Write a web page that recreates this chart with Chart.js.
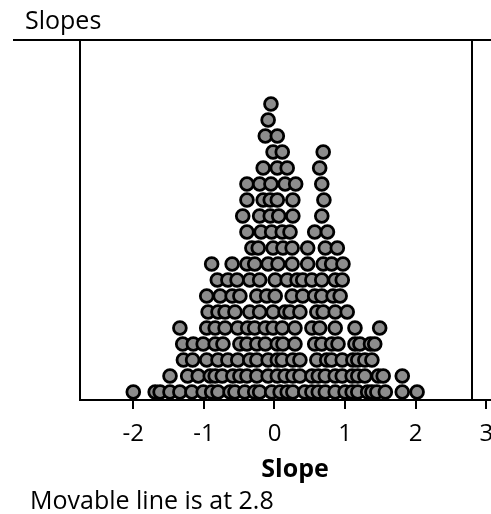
<!DOCTYPE html>
<html>
<head>
<meta charset="utf-8">
<script src="https://cdn.jsdelivr.net/npm/chart.js@4/dist/chart.umd.min.js"></script>
<style>
  html, body { margin: 0; padding: 0; background: #ffffff; }
  #wrap { width: 491px; height: 514px; }
</style>
</head>
<body>
<div id="wrap"><canvas id="c" width="491" height="514"></canvas></div>
<script>
// Slope values in the dot plot, grouped by stack level (level01 rests on the axis)
const level01 = [-2.00, -1.69, -1.62, -1.48, -1.34, -1.17, -1.01, -0.89, -0.80, -0.63, -0.56, -0.42, -0.28, -0.21, -0.04, 0.08, 0.18, 0.26, 0.43, 0.53, 0.62, 0.72, 0.86, 1.00, 1.10, 1.18, 1.32, 1.38, 1.45, 1.57, 1.81, 2.02];
const level02 = [-1.48, -1.23, -1.08, -0.91, -0.84, -0.74, -0.59, -0.49, -0.39, -0.25, -0.09, 0.04, 0.15, 0.26, 0.36, 0.53, 0.62, 0.72, 0.86, 0.96, 1.10, 1.18, 1.28, 1.47, 1.54, 1.81];
const level03 = [-1.29, -1.16, -0.96, -0.80, -0.66, -0.52, -0.35, -0.25, -0.09, 0.04, 0.11, 0.26, 0.36, 0.60, 0.74, 0.81, 0.96, 1.11, 1.18, 1.28, 1.38];
const level04 = [-1.30, -1.15, -1.01, -0.84, -0.73, -0.49, -0.39, -0.25, -0.13, 0.04, 0.12, 0.29, 0.57, 0.67, 0.81, 0.90, 1.14, 1.21, 1.36, 1.42];
const level05 = [-1.34, -0.96, -0.84, -0.70, -0.52, -0.38, -0.28, -0.13, -0.02, 0.11, 0.29, 0.53, 0.64, 0.86, 1.14, 1.49];
const level06 = [-0.94, -0.80, -0.70, -0.56, -0.35, -0.21, -0.02, 0.15, 0.22, 0.36, 0.60, 0.69, 0.86, 1.03];
const level07 = [-0.96, -0.77, -0.60, -0.49, -0.25, -0.11, 0.01, 0.25, 0.40, 0.57, 0.67, 0.83, 0.93];
const level08 = [-0.81, -0.66, -0.53, -0.35, -0.21, 0.01, 0.18, 0.32, 0.40, 0.53, 0.67, 0.86, 0.96];
const level09 = [-0.89, -0.60, -0.39, -0.28, -0.09, 0.05, 0.25, 0.47, 0.69, 0.81, 0.97];
const level10 = [-0.32, -0.23, -0.02, 0.12, 0.25, 0.47, 0.72, 0.89];
const level11 = [-0.39, -0.19, -0.04, 0.11, 0.22, 0.57, 0.75];
const level12 = [-0.45, -0.21, -0.06, 0.06, 0.26, 0.67];
const level13 = [-0.39, -0.16, -0.06, 0.04, 0.26, 0.70];
const level14 = [-0.39, -0.21, -0.05, 0.15, 0.30, 0.67];
const level15 = [-0.16, 0.04, 0.18, 0.64];
const level16 = [-0.02, 0.11, 0.69];
const level17 = [-0.13, 0.04];
const level18 = [-0.09];
const level19 = [-0.05];

const tickValues = [-2, -1, 0, 1, 2, 3];
const movableLineAt = 2.8;
const panelTitle = 'Slopes';
const axisTitle = 'Slope';
const footerText = 'Movable line is at ' + movableLineAt;

const levels = [level01, level02, level03, level04, level05, level06, level07, level08, level09, level10,
                level11, level12, level13, level14, level15, level16, level17, level18, level19];
const dots = levels.flatMap((vals, i) => vals.map(v => ({ x: v, y: i + 0.5 })));

const FONT = "'Open Sans', 'Noto Sans', 'DejaVu Sans', sans-serif";

// frame lines, movable line and the text around the plot
const framePlugin = {
  id: 'frame',
  beforeDatasetsDraw(chart) {
    const { ctx, chartArea: a, scales: { x } } = chart;
    ctx.save();
    ctx.strokeStyle = '#000';
    ctx.lineWidth = 2;
    ctx.beginPath();
    ctx.moveTo(13, a.top);
    ctx.lineTo(chart.width, a.top);
    ctx.moveTo(a.left, a.top);
    ctx.lineTo(a.left, a.bottom);
    const mx = Math.round(x.getPixelForValue(movableLineAt));
    ctx.moveTo(mx, a.top);
    ctx.lineTo(mx, a.bottom);
    ctx.stroke();
    ctx.restore();
  },
  afterDraw(chart) {
    const { ctx } = chart;
    ctx.save();
    ctx.fillStyle = '#000';
    ctx.textBaseline = 'alphabetic';
    ctx.font = '25px ' + FONT;
    ctx.textAlign = 'left';
    ctx.fillText(panelTitle, 25, 29);
    ctx.fillText(footerText, 30, 509);
    ctx.font = 'bold 25px ' + FONT;
    ctx.textAlign = 'center';
    ctx.fillText(axisTitle, 295, 477);
    ctx.restore();
  }
};

new Chart(document.getElementById('c'), {
  type: 'scatter',
  data: {
    datasets: [{
      data: dots,
      backgroundColor: '#8c8c8c',
      borderColor: '#000',
      borderWidth: 2.8,
      pointRadius: 6.4,
      pointHoverRadius: 6.4
    }]
  },
  options: {
    responsive: false,
    animation: false,
    devicePixelRatio: 1,
    layout: { autoPadding: false, padding: { top: 40, left: 80, right: 0, bottom: 54 } },
    plugins: { legend: { display: false }, tooltip: { enabled: false }, title: { display: false } },
    scales: {
      x: {
        type: 'linear',
        min: -2.755,
        max: 3.067,
        afterBuildTicks: s => { s.ticks = tickValues.map(v => ({ value: v })); },
        afterFit: s => { s.height = 60; s.paddingLeft = 0; s.paddingRight = 0; },
        ticks: {
          color: '#000',
          padding: 11,
          maxRotation: 0,
          autoSkip: false,
          font: { family: FONT, size: 24 },
          callback: v => String(v)
        },
        grid: { drawOnChartArea: false, drawTicks: true, tickLength: 9, color: '#000', lineWidth: 2 },
        border: { display: true, color: '#000', width: 2 }
      },
      y: {
        display: false,
        min: 0,
        max: 22.5
      }
    }
  },
  plugins: [framePlugin]
});
</script>
</body>
</html>
